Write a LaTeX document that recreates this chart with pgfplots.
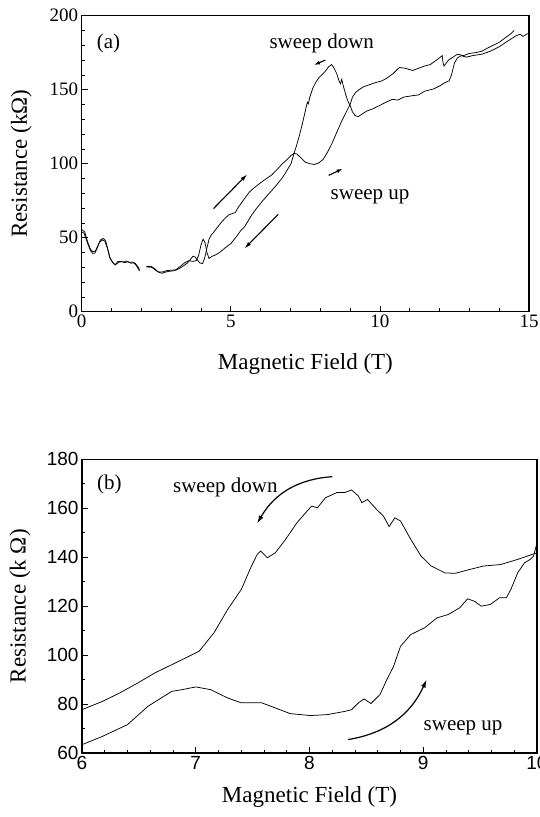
\documentclass[border=0pt]{standalone}
\usepackage{fontspec}
\setmainfont{Liberation Serif}
\newfontfamily\sansf{Liberation Sans}
\usepackage{pgfplots}
\pgfplotsset{compat=1.18}
\usetikzlibrary{arrows.meta}
\pgfplotsset{common/.style={
  scale only axis, axis line style={line width=1.2pt},
  tick align=inside, xtick pos=left, ytick pos=left,
  major tick length=6pt, minor tick length=3.5pt,
  every tick/.style={black, line width=0.8pt},
  /pgf/number format/assume math mode=true,
  label style={font=\fontsize{23}{23}\selectfont},
  clip=false}}
\begin{document}
\begin{tikzpicture}
\useasboundingbox (0pt,0pt) rectangle (540pt,-817pt);
% ---------------- panel (a)
\begin{axis}[common, at={(81.7pt,-311.7pt)}, anchor=south west,
  width=447.3pt, height=296pt,
  xmin=0, xmax=15, ymin=0, ymax=200,
  xtick={0,5,10,15}, ytick={0,50,...,200},
  minor x tick num=4, minor y tick num=4,
  ticklabel style={font=\fontsize{19}{19}\selectfont},
  xlabel={Magnetic Field (T)}, ylabel={Resistance (kΩ)},
  xlabel style={at={(axis description cs:0.5,-0.176)}, anchor=center},
  ylabel style={at={(axis description cs:-0.135,0.5)}, anchor=center}]
% sweep up
\addplot[black, line width=0.75pt] coordinates {
(0,54) (0.08,53) (0.15,49) (0.22,45) (0.29,41.5) (0.36,39.5) (0.44,39.5) (0.52,43) (0.6,47) (0.69,48.5) (0.78,47.5) (0.86,43) (0.93,37.5) (1.0,34.5) (1.07,32.5) (1.15,32) (1.25,33.5) (1.35,33.8) (1.45,33.2) (1.55,33.8) (1.65,32.8) (1.75,33) (1.82,31.5) (1.9,29) (1.94,27.5)};
\addplot[black, line width=0.75pt] coordinates {
(2.17,30.3) (2.25,30.8) (2.34,30) (2.42,29) (2.52,27.5) (2.6,26.5) (2.69,26) (2.8,26.7) (2.92,27.3) (3.05,27.5) (3.15,28) (3.3,29.5) (3.45,31.5) (3.55,33) (3.65,35.5) (3.73,37.5) (3.8,37) (3.88,35) (3.96,33) (4.05,32.5) (4.12,36) (4.2,43) (4.27,49) (4.35,52) (4.42,53.5) (4.55,57) (4.65,59.6) (4.8,63) (4.94,65.5) (5.05,66.3) (5.15,67) (5.25,70.5) (5.34,73) (5.5,77.5) (5.63,81) (5.8,84) (6.03,87.6) (6.2,90) (6.38,92.5) (6.55,96) (6.73,100) (6.9,103) (7.02,105.6) (7.12,107) (7.22,106.5) (7.35,104) (7.5,101) (7.65,100) (7.8,99.5) (7.95,100.5) (8.1,103) (8.25,108) (8.4,114) (8.55,121) (8.7,128) (8.85,134) (9.0,140) (9.08,145) (9.18,148) (9.3,150) (9.45,152) (9.6,153) (9.8,154.5) (10.07,156) (10.25,158) (10.45,161) (10.65,165) (10.85,164.5) (11.1,163) (11.3,164.5) (11.5,166) (11.69,167) (11.9,170) (12.09,173) (12.12,168) (12.15,166) (12.3,170) (12.45,172) (12.6,174) (12.8,173) (13.0,174.5) (13.2,175) (13.42,176) (13.6,178) (13.8,180) (14.0,182) (14.2,185) (14.4,188) (14.5,190)};
% sweep down
\addplot[black, line width=0.75pt] coordinates {
(0,55.5) (0.1,54) (0.2,47) (0.3,42) (0.38,40.5) (0.46,41) (0.55,45) (0.63,48.5) (0.72,49.5) (0.8,48) (0.88,42) (0.95,36) (1.05,33) (1.12,31.5) (1.2,33.8) (1.3,34) (1.4,33.5) (1.5,34.3) (1.6,33.3) (1.7,33.6) (1.8,32.5) (1.88,30.5) (1.94,28.5)};
\addplot[black, line width=0.75pt] coordinates {
(2.17,30.5) (2.25,30) (2.34,30.5) (2.45,29) (2.55,27) (2.65,26.8) (2.75,27) (2.85,27.8) (3.0,28) (3.15,28.3) (3.3,30.5) (3.45,33) (3.6,34.5) (3.73,34) (3.84,34.5) (3.92,38) (4.0,45) (4.07,49) (4.13,47) (4.2,40) (4.27,36) (4.38,37.5) (4.5,38.5) (4.65,40.4) (4.8,43) (5.0,46) (5.2,51) (5.34,55) (5.46,57.3) (5.69,65) (5.85,69.5) (6.03,74) (6.2,78) (6.38,82) (6.55,86) (6.73,90.5) (6.9,96) (7.02,100) (7.12,107) (7.2,112) (7.3,119) (7.4,127) (7.48,134) (7.53,138.5) (7.57,141.5) (7.6,140.5) (7.65,145) (7.75,151) (7.85,155) (7.95,158) (8.05,160) (8.15,162) (8.28,165.5) (8.38,167) (8.45,165) (8.55,161) (8.63,156) (8.68,154) (8.72,157) (8.78,152) (8.85,147) (8.93,142) (9.0,139.5) (9.08,135) (9.17,132.5) (9.27,131.8) (9.4,133.5) (9.55,135.5) (9.75,137) (9.96,139) (10.2,141.5) (10.42,143.5) (10.6,143) (10.8,145) (11.11,146) (11.3,146.5) (11.5,149) (11.8,150.5) (12.0,152.5) (12.2,155) (12.32,156) (12.4,160) (12.5,168) (12.6,171.5) (12.73,173) (12.9,172) (13.1,173) (13.42,174) (13.7,176) (14.0,179) (14.3,183) (14.57,186.5) (14.7,187.5) (14.8,186) (14.92,187.6) (15,188)};
\node[font=\fontsize{21}{21}\selectfont] at (axis cs:0.9,181) {(a)};
\node[font=\fontsize{21}{21}\selectfont] at (axis cs:8.05,181) {sweep down};
\node[font=\fontsize{21}{21}\selectfont] at (axis cs:9.67,77.5) {sweep up};
\draw[-{Latex[length=7pt,width=4pt]}, line width=1.1pt] (axis cs:4.42,69.7) -- (axis cs:5.55,92.8);
\draw[-{Latex[length=7pt,width=4pt]}, line width=1.1pt] (axis cs:6.59,65.8) -- (axis cs:5.46,42.7);
\draw[-{Latex[length=6pt,width=4pt]}, line width=1.1pt] (axis cs:8.17,170) -- (axis cs:7.79,166.7);
\draw[-{Latex[length=6pt,width=4pt]}, line width=1.1pt] (axis cs:8.28,92.1) -- (axis cs:8.75,96.6);
\end{axis}
% ---------------- panel (b)
\begin{axis}[common, at={(82pt,-753pt)}, anchor=south west,
  width=455pt, height=293.7pt,
  xmin=6, xmax=10, ymin=60, ymax=180,
  xtick={6,7,8,9,10}, ytick={60,80,...,180},
  minor x tick num=4, minor y tick num=1,
  ticklabel style={font=\sansf\fontsize{19}{19}\selectfont},
  xlabel={Magnetic Field (T)}, ylabel={Resistance (k Ω)},
  xlabel style={at={(axis description cs:0.5,-0.15)}, anchor=center},
  ylabel style={at={(axis description cs:-0.136,0.5)}, anchor=center}]
% sweep down
\addplot[black, line width=0.75pt] coordinates {
(6,77.7) (6.18,81.1) (6.33,84.5) (6.49,88.6) (6.64,92.7) (6.79,96.1) (6.97,100.2) (7.03,101.6) (7.16,109.1) (7.28,118.6) (7.40,126.8) (7.49,136.4) (7.54,141.1) (7.57,142.5) (7.63,139.8) (7.70,141.8) (7.79,147.3) (7.89,154.1) (7.98,158.9) (8.02,160.9) (8.07,160.2) (8.14,164.3) (8.24,166.4) (8.31,166.4) (8.37,167.5) (8.43,165) (8.46,162.3) (8.51,163.6) (8.59,159.5) (8.65,156.8) (8.70,152.5) (8.75,156.1) (8.80,154.8) (8.89,147.3) (8.98,140.5) (9.07,136.4) (9.19,133.6) (9.28,133.4) (9.41,135) (9.53,136.4) (9.68,137) (9.83,139.1) (10,141.8)};
% sweep up
\addplot[black, line width=0.75pt] coordinates {
(6,63.4) (6.18,66.8) (6.40,71.6) (6.58,79.1) (6.79,85.2) (6.88,85.9) (7.00,87) (7.13,85.9) (7.28,82.5) (7.40,80.5) (7.58,80.5) (7.70,78.4) (7.83,76.1) (8.01,75.3) (8.16,75.7) (8.31,77) (8.37,77.7) (8.43,80.5) (8.48,82.1) (8.54,80.2) (8.62,83.9) (8.68,90) (8.74,95.5) (8.80,103.6) (8.89,108.4) (9.01,111.1) (9.12,115.2) (9.22,116.6) (9.32,119.3) (9.39,123) (9.45,122) (9.51,120) (9.59,120.7) (9.67,123.4) (9.73,123.4) (9.77,126.8) (9.83,133.6) (9.89,137.7) (9.94,139.1) (9.97,140.5) (10,145.9)};
\node[font=\fontsize{21}{21}\selectfont] at (axis cs:6.24,169.8) {(b)};
\node[font=\fontsize{21}{21}\selectfont] at (axis cs:7.26,168.4) {sweep down};
\node[font=\fontsize{21}{21}\selectfont] at (axis cs:9.35,70.2) {sweep up};
\draw[-{Latex[length=8pt,width=5pt]}, line width=1.2pt] (axis cs:8.2,172.9) to[bend right=28] (axis cs:7.54,153.8);
\draw[-{Latex[length=8pt,width=5pt]}, line width=1.2pt] (axis cs:8.34,65.5) to[bend right=28] (axis cs:9.03,90);
\end{axis}
\end{tikzpicture}
\end{document}
